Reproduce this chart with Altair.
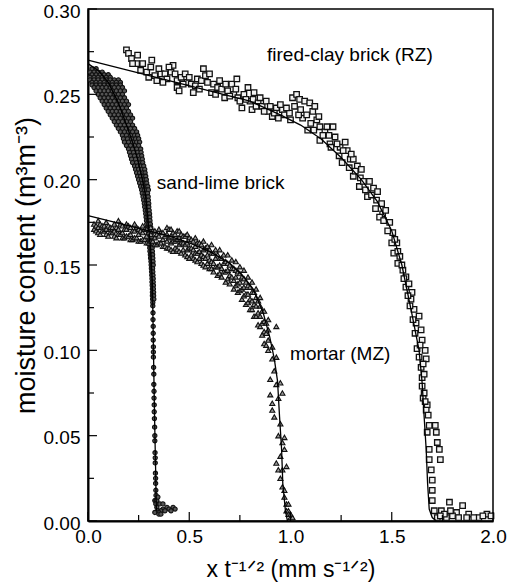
import altair as alt
import pandas as pd

# ---------------- data ----------------
# fired-clay brick (RZ) – squares
FC_X = [0.19, 0.20, 0.215, 0.245, 0.24, 0.26, 0.29, 0.315, 0.31, 0.33, 0.34, 0.36, 0.38, 0.39,
        0.42, 0.41, 0.44, 0.44, 0.46, 0.48, 0.49, 0.51, 0.52, 0.54, 0.56, 0.57, 0.58, 0.60,
        0.61, 0.62, 0.64, 0.65, 0.675, 0.69, 0.71, 0.72, 0.735, 0.74, 0.76, 0.77, 0.79, 0.80,
        0.81, 0.815, 0.84, 0.86, 0.88, 0.89, 0.91, 0.93, 0.96, 0.97, 0.995, 1.01, 1.03, 1.045,
        1.06, 1.07, 1.085, 1.095, 1.11, 1.12, 1.13, 1.145, 1.145, 1.17, 1.18, 1.195, 1.21, 1.22,
        1.245, 1.255, 1.27, 1.28, 1.295, 1.31, 1.31, 1.33, 1.345, 1.35, 1.37, 1.39, 1.41, 1.425,
        1.43, 1.45, 1.455, 1.47, 1.49, 1.505, 1.51, 1.525, 1.53, 1.53, 1.555, 1.57, 1.57, 1.585,
        1.595, 1.60, 1.61, 1.62, 1.635, 1.645, 1.65, 1.625, 1.665, 1.635, 1.67, 1.645, 1.65, 1.65,
        1.655, 1.675, 1.67, 1.68, 1.685, 1.715, 1.675, 1.72, 1.725, 1.685, 1.735, 1.74, 1.685, 1.695,
        1.70, 1.70, 1.70, 1.71, 1.745, 1.785, 1.82, 1.85, 1.88, 1.93, 1.97, 1.77, 1.83, 1.725,
        1.905, 1.76, 1.80, 1.87, 1.95, 1.99, 1.74, 1.79,
        0.22, 0.27, 0.30, 0.35, 0.37, 0.40, 0.43, 0.45, 0.47, 0.50, 0.53, 0.55, 0.59, 0.63,
        0.66, 0.68, 0.70, 0.73, 0.75, 0.78, 0.82, 0.83, 0.85, 0.87, 0.90, 0.92, 0.94, 0.95,
        0.98, 1.00, 1.02, 1.04, 1.05, 1.08, 1.10, 1.115, 1.14, 1.16, 1.19, 1.20, 1.23, 1.24,
        1.26, 1.29, 1.30, 1.32, 1.34, 1.36, 1.38, 1.40, 1.42, 1.44, 1.46, 1.48, 1.50, 1.515,
        1.54, 1.55, 1.56, 1.58, 1.59, 1.605, 1.615, 1.64, 1.655, 1.66, 1.66, 1.665]
FC_Y = [0.276, 0.274, 0.271, 0.273, 0.268, 0.264, 0.263, 0.270, 0.266, 0.261, 0.258, 0.262, 0.262, 0.259,
        0.267, 0.263, 0.258, 0.254, 0.260, 0.262, 0.257, 0.256, 0.251, 0.259, 0.258, 0.265, 0.261, 0.262,
        0.251, 0.256, 0.254, 0.258, 0.248, 0.252, 0.256, 0.250, 0.259, 0.248, 0.242, 0.250, 0.254, 0.246,
        0.241, 0.247, 0.245, 0.243, 0.246, 0.240, 0.237, 0.242, 0.241, 0.238, 0.239, 0.248, 0.250, 0.247,
        0.236, 0.246, 0.229, 0.245, 0.240, 0.243, 0.235, 0.231, 0.223, 0.228, 0.231, 0.221, 0.231, 0.225,
        0.219, 0.210, 0.222, 0.217, 0.212, 0.212, 0.202, 0.208, 0.201, 0.206, 0.194, 0.199, 0.195, 0.188,
        0.193, 0.186, 0.180, 0.182, 0.175, 0.169, 0.157, 0.163, 0.151, 0.158, 0.147, 0.143, 0.137, 0.139,
        0.130, 0.134, 0.124, 0.116, 0.120, 0.112, 0.106, 0.101, 0.100, 0.096, 0.095, 0.090, 0.084, 0.079,
        0.072, 0.068, 0.065, 0.062, 0.056, 0.056, 0.052, 0.052, 0.046, 0.042, 0.042, 0.036, 0.036, 0.030,
        0.024, 0.018, 0.012, 0.006, 0.006, 0.011, 0.005, 0.009, 0.004, 0.002, 0.004, 0.002, 0.002, 0.002,
        0.002, 0.004, 0.003, 0.002, 0.003, 0.003, 0.003, 0.006,
        0.268, 0.268, 0.260, 0.265, 0.257, 0.266, 0.262, 0.252, 0.256, 0.260, 0.255, 0.253, 0.257, 0.250,
        0.253, 0.256, 0.249, 0.253, 0.246, 0.247, 0.251, 0.243, 0.248, 0.240, 0.243, 0.239, 0.236, 0.244,
        0.242, 0.235, 0.243, 0.238, 0.241, 0.238, 0.233, 0.229, 0.237, 0.226, 0.226, 0.219, 0.221, 0.214,
        0.217, 0.207, 0.215, 0.205, 0.196, 0.199, 0.190, 0.191, 0.183, 0.178, 0.176, 0.170, 0.163, 0.165,
        0.155, 0.150, 0.142, 0.132, 0.126, 0.118, 0.110, 0.103, 0.092, 0.086, 0.075, 0.070]

# sand-lime brick – circles, read row by row (moisture value, positions across the band)
SL_ROWS = [
    (0.265, [0.02, 0.04]),
    (0.263, [0.01, 0.03, 0.05, 0.07]),
    (0.2615, [0.02, 0.04, 0.06, 0.08, 0.10]),
    (0.260, [0.01, 0.03, 0.05, 0.07, 0.09, 0.11]),
    (0.2585, [0.01, 0.03, 0.05, 0.07, 0.09, 0.11, 0.13, 0.15]),
    (0.257, [0.02, 0.04, 0.06, 0.08, 0.10, 0.12, 0.14, 0.16]),
    (0.2555, [0.02, 0.04, 0.06, 0.08, 0.10, 0.12, 0.14, 0.16]),
    (0.254, [0.03, 0.05, 0.07, 0.09, 0.11, 0.13, 0.15, 0.17]),
    (0.252, [0.04, 0.06, 0.08, 0.10, 0.12, 0.14, 0.16, 0.18]),
    (0.250, [0.05, 0.07, 0.09, 0.11, 0.13, 0.15, 0.17]),
    (0.248, [0.06, 0.08, 0.10, 0.12, 0.14, 0.16, 0.18]),
    (0.246, [0.07, 0.09, 0.11, 0.13, 0.15, 0.17, 0.19]),
    (0.244, [0.08, 0.10, 0.12, 0.14, 0.16, 0.18, 0.20]),
    (0.242, [0.09, 0.11, 0.13, 0.15, 0.17, 0.19]),
    (0.240, [0.10, 0.12, 0.14, 0.16, 0.18, 0.20]),
    (0.238, [0.11, 0.13, 0.15, 0.17, 0.19, 0.21]),
    (0.236, [0.12, 0.14, 0.16, 0.18, 0.20, 0.22]),
    (0.234, [0.13, 0.15, 0.17, 0.19, 0.21]),
    (0.232, [0.14, 0.16, 0.18, 0.20, 0.22]),
    (0.230, [0.15, 0.17, 0.19, 0.21, 0.23]),
    (0.228, [0.16, 0.18, 0.20, 0.22, 0.24]),
    (0.226, [0.17, 0.19, 0.21, 0.23, 0.245]),
    (0.224, [0.175, 0.195, 0.215, 0.235, 0.25]),
    (0.222, [0.18, 0.20, 0.22, 0.24, 0.255]),
    (0.220, [0.19, 0.21, 0.23, 0.25]),
    (0.218, [0.20, 0.22, 0.24, 0.26]),
    (0.216, [0.205, 0.225, 0.245, 0.262]),
    (0.214, [0.21, 0.23, 0.25, 0.265]),
    (0.212, [0.215, 0.235, 0.255, 0.268]),
    (0.210, [0.22, 0.24, 0.26, 0.27]),
    (0.208, [0.23, 0.245, 0.26, 0.275]),
    (0.206, [0.235, 0.25, 0.265, 0.28]),
    (0.204, [0.24, 0.255, 0.27, 0.282]),
    (0.202, [0.245, 0.26, 0.275, 0.285]),
    (0.200, [0.25, 0.265, 0.28, 0.288]),
    (0.198, [0.255, 0.27, 0.285, 0.29]),
    (0.196, [0.26, 0.274, 0.288, 0.295]),
    (0.194, [0.265, 0.278, 0.29, 0.298]),
    (0.192, [0.268, 0.282, 0.294]),
    (0.190, [0.272, 0.285, 0.297]),
    (0.188, [0.275, 0.288, 0.298]),
    (0.186, [0.278, 0.29, 0.30]),
    (0.184, [0.28, 0.292, 0.30]),
    (0.182, [0.283, 0.294, 0.302]),
    (0.180, [0.285, 0.296, 0.304]),
    (0.178, [0.287, 0.297, 0.305]),
    (0.176, [0.289, 0.299, 0.306]),
    (0.174, [0.29, 0.30, 0.308]),
    (0.172, [0.293, 0.302, 0.31]),
    (0.170, [0.295, 0.304, 0.311]),
    (0.168, [0.297, 0.305, 0.312]),
    (0.166, [0.299, 0.307, 0.313]),
    (0.164, [0.301, 0.309, 0.315]),
    (0.162, [0.303, 0.31, 0.316]),
    (0.160, [0.305, 0.312, 0.317]),
    (0.158, [0.306, 0.313, 0.318]),
    (0.156, [0.308, 0.314, 0.319]),
    (0.154, [0.309, 0.315, 0.32]),
    (0.152, [0.311, 0.317, 0.321]),
    (0.150, [0.312, 0.318, 0.322]),
    (0.148, [0.313, 0.319]),
    (0.146, [0.314, 0.32]),
    (0.144, [0.315, 0.321]),
    (0.142, [0.316, 0.322]),
    (0.140, [0.316, 0.322]),
    (0.138, [0.317, 0.323]),
    (0.136, [0.318, 0.323]),
    (0.134, [0.318, 0.324]),
    (0.132, [0.318, 0.324]),
    (0.130, [0.319, 0.325]),
    (0.128, [0.32]), (0.126, [0.32]), (0.122, [0.321]), (0.118, [0.321]), (0.114, [0.322]),
    (0.110, [0.322]), (0.106, [0.322]), (0.102, [0.323]), (0.099, [0.323]),
    (0.096, [0.323]), (0.090, [0.324]), (0.086, [0.325]), (0.080, [0.325]),
    (0.076, [0.326]), (0.072, [0.326]), (0.068, [0.327]), (0.064, [0.327]),
    (0.060, [0.328]), (0.055, [0.329]), (0.050, [0.330]), (0.047, [0.330]),
    (0.040, [0.331]), (0.037, [0.332]), (0.034, [0.332]), (0.028, [0.333]),
    (0.025, [0.334]), (0.022, [0.334]), (0.018, [0.335]), (0.015, [0.336]),
    (0.012, [0.33, 0.336, 0.34]),
    (0.010, [0.335, 0.355, 0.37]),
    (0.008, [0.34, 0.39, 0.42]),
    (0.007, [0.37, 0.40, 0.43]),
    (0.006, [0.345, 0.36, 0.38, 0.41]),
    (0.005, [0.33, 0.35]),
    (0.004, [0.35, 0.36]),
    (0.014, [0.345]),
]

# mortar (MZ) – triangles, read column by column (position, moisture values)
MZ_COLS = [
    (0.03, [0.171, 0.174]), (0.04, [0.170, 0.173]), (0.05, [0.169, 0.172, 0.176]),
    (0.06, [0.168, 0.174]), (0.07, [0.170, 0.173]), (0.08, [0.170, 0.173]),
    (0.09, [0.168, 0.171, 0.175]), (0.10, [0.167, 0.173]), (0.11, [0.169, 0.172]),
    (0.12, [0.169, 0.172]), (0.13, [0.167, 0.170, 0.174]), (0.14, [0.166, 0.172]),
    (0.15, [0.168, 0.171, 0.176]), (0.16, [0.168, 0.174]), (0.17, [0.166, 0.169, 0.173]),
    (0.18, [0.166, 0.171]), (0.19, [0.167, 0.171, 0.174]), (0.20, [0.167, 0.173]),
    (0.21, [0.165, 0.168, 0.172]), (0.22, [0.165, 0.170]), (0.23, [0.166, 0.170, 0.174]),
    (0.24, [0.166, 0.172]), (0.25, [0.164, 0.168, 0.171]), (0.26, [0.164, 0.170]),
    (0.27, [0.165, 0.169, 0.173]), (0.28, [0.165, 0.171]), (0.29, [0.163, 0.167, 0.171]),
    (0.30, [0.163, 0.169]), (0.31, [0.164, 0.168, 0.172]), (0.32, [0.164, 0.170]),
    (0.33, [0.162, 0.166, 0.170]), (0.34, [0.162, 0.168]), (0.35, [0.163, 0.167, 0.171]),
    (0.36, [0.163, 0.169]), (0.37, [0.161, 0.165, 0.169]), (0.38, [0.161, 0.167]),
    (0.39, [0.160, 0.164, 0.168, 0.172]), (0.40, [0.160, 0.166, 0.171]),
    (0.41, [0.159, 0.163, 0.167, 0.171]), (0.42, [0.158, 0.164, 0.169]),
    (0.43, [0.160, 0.164, 0.168]), (0.44, [0.159, 0.165, 0.170]),
    (0.45, [0.158, 0.162, 0.166, 0.170]), (0.46, [0.157, 0.163, 0.168]),
    (0.47, [0.159, 0.163, 0.167]), (0.48, [0.156, 0.162, 0.167]),
    (0.49, [0.155, 0.159, 0.163, 0.168]), (0.50, [0.154, 0.160, 0.166]),
    (0.51, [0.156, 0.160, 0.165]), (0.52, [0.154, 0.159, 0.164]),
    (0.53, [0.153, 0.157, 0.161, 0.166]), (0.54, [0.152, 0.157, 0.163]),
    (0.55, [0.154, 0.158, 0.163]), (0.56, [0.151, 0.156, 0.162]),
    (0.57, [0.150, 0.155, 0.159, 0.164]), (0.58, [0.149, 0.154, 0.160]),
    (0.59, [0.151, 0.156, 0.161]), (0.60, [0.148, 0.153, 0.159]),
    (0.61, [0.148, 0.152, 0.157, 0.162]), (0.62, [0.146, 0.151, 0.157]),
    (0.63, [0.149, 0.154, 0.159]), (0.64, [0.144, 0.149, 0.156]),
    (0.65, [0.145, 0.150, 0.154, 0.159]), (0.66, [0.143, 0.148, 0.154]),
    (0.67, [0.146, 0.151, 0.156]), (0.68, [0.140, 0.146, 0.152]),
    (0.69, [0.142, 0.147, 0.151, 0.156]), (0.70, [0.139, 0.144, 0.150]),
    (0.71, [0.143, 0.148, 0.153]), (0.72, [0.136, 0.141, 0.148]),
    (0.73, [0.138, 0.143, 0.147, 0.152]), (0.74, [0.134, 0.139, 0.146]),
    (0.75, [0.135, 0.140, 0.145, 0.149]), (0.76, [0.130, 0.136, 0.143]),
    (0.77, [0.132, 0.137, 0.142, 0.147]), (0.78, [0.127, 0.133, 0.140]),
    (0.79, [0.128, 0.133, 0.138, 0.143]), (0.80, [0.124, 0.130, 0.137]),
    (0.81, [0.124, 0.129, 0.134, 0.140]), (0.82, [0.120, 0.127, 0.134]),
    (0.83, [0.120, 0.126, 0.131, 0.136]), (0.84, [0.115, 0.122, 0.129]),
    (0.85, [0.114, 0.120, 0.126, 0.131]), (0.86, [0.109, 0.116, 0.123]),
    (0.87, [0.104, 0.111, 0.117, 0.123]), (0.88, [0.103, 0.110, 0.116]),
    (0.89, [0.100, 0.106, 0.112, 0.118]),
    (0.90, [0.083, 0.074]), (0.91, [0.069, 0.065, 0.095, 0.102]), (0.92, [0.061, 0.088]),
    (0.93, [0.034, 0.096, 0.080, 0.114]), (0.94, [0.030, 0.050, 0.072]),
    (0.95, [0.057, 0.081, 0.038, 0.025]), (0.96, [0.046, 0.075, 0.020, 0.030]),
    (0.97, [0.042, 0.049, 0.014, 0.018]), (0.98, [0.032, 0.010, 0.006]),
    (0.99, [0.006, 0.004, 0.010]), (1.00, [0.004, 0.002]), (1.01, [0.002]),
]

# fitted curves
FIT_FC_X = [0.0, 0.2, 0.4, 0.6, 0.8, 0.95, 1.05, 1.15, 1.25, 1.35, 1.43, 1.50, 1.55, 1.60,
            1.635, 1.65, 1.66, 1.67, 1.677, 1.685, 1.70, 1.72]
FIT_FC_Y = [0.270, 0.264, 0.258, 0.252, 0.246, 0.238, 0.232, 0.224, 0.213, 0.200, 0.187, 0.170,
            0.150, 0.121, 0.100, 0.081, 0.061, 0.042, 0.022, 0.007, 0.002, 0.0]
FIT_SL_X = [0.0, 0.05, 0.10, 0.15, 0.19, 0.22, 0.245, 0.265, 0.285, 0.297, 0.31, 0.318, 0.322,
            0.326, 0.33, 0.334, 0.336, 0.338]
FIT_SL_Y = [0.268, 0.264, 0.257, 0.245, 0.232, 0.222, 0.212, 0.202, 0.190, 0.175, 0.158, 0.140,
            0.110, 0.080, 0.053, 0.030, 0.015, 0.006]
FIT_MZ_X = [0.0, 0.1, 0.2, 0.3, 0.4, 0.5, 0.6, 0.7, 0.77, 0.815, 0.865, 0.897, 0.92, 0.936,
            0.946, 0.956, 0.962, 0.975, 0.985]
FIT_MZ_Y = [0.179, 0.176, 0.173, 0.170, 0.167, 0.163, 0.158, 0.151, 0.143, 0.136, 0.122, 0.108,
            0.095, 0.082, 0.061, 0.042, 0.022, 0.006, 0.0]

LABELS = ["fired-clay brick (RZ)", "sand-lime brick", "mortar (MZ)"]
LABEL_X = [0.884, 0.34, 0.998]
LABEL_Y = [0.273, 0.198, 0.098]

X_MAJOR = [0.0, 0.5, 1.0, 1.5, 2.0]
X_MINOR = [0.25, 0.75, 1.25, 1.75]
Y_MAJOR = [0.0, 0.05, 0.10, 0.15, 0.20, 0.25, 0.30]
Y_MINOR = [0.025, 0.075, 0.125, 0.175, 0.225, 0.275]

# ---------------- build tables ----------------
fc = pd.DataFrame({"x": FC_X, "y": FC_Y})
sl = pd.DataFrame([{"x": xv, "y": yv} for yv, xs in SL_ROWS for xv in xs])
mz = pd.DataFrame([{"x": xv, "y": yv} for xv, ys in MZ_COLS for yv in ys])

fit_rows = []
for name, xs_, ys_ in [("fc", FIT_FC_X, FIT_FC_Y), ("sl", FIT_SL_X, FIT_SL_Y), ("mz", FIT_MZ_X, FIT_MZ_Y)]:
    for i, (xv, yv) in enumerate(zip(xs_, ys_)):
        fit_rows.append({"s": name, "i": i, "x": xv, "y": yv})
fits = pd.DataFrame(fit_rows)
labels = pd.DataFrame({"t": LABELS, "x": LABEL_X, "y": LABEL_Y})

W, H = 405, 512
FONT = "Liberation Sans"

xs = alt.Scale(domain=[0, 2], nice=False, zero=False)
ys = alt.Scale(domain=[0, 0.3], nice=False, zero=False)

x_axis = alt.Axis(values=X_MAJOR, format=".1f", ticks=False, grid=False, labelFlush=False,
                  labelOverlap=False, labelFontSize=19, labelFont=FONT, labelColor="black",
                  labelPadding=6, domainColor="black", domainWidth=2,
                  title="x t⁻¹ᐟ² (mm s⁻¹ᐟ²)", titleFont=FONT, titleFontSize=23,
                  titleFontWeight="normal", titleColor="black", titlePadding=12)
y_axis = alt.Axis(values=Y_MAJOR, format=".2f", ticks=False, grid=False, labelFlush=False,
                  labelOverlap=False, labelFontSize=19, labelFont=FONT, labelColor="black",
                  labelPadding=8, labelOffset=2, domainColor="black", domainWidth=2,
                  title="moisture content (m³m⁻³)", titleFont=FONT, titleFontSize=27,
                  titleFontWeight="normal", titleColor="black", titlePadding=3)

base_x = alt.X("x:Q", scale=xs, axis=x_axis)
base_y = alt.Y("y:Q", scale=ys, axis=y_axis)

pts_fc = alt.Chart(fc).mark_point(shape="square", size=30, filled=True, fill="#f2f2f2",
                                  stroke="#111", strokeWidth=1.3, opacity=1).encode(x=base_x, y=base_y)
pts_sl = alt.Chart(sl).mark_point(shape="circle", size=18, filled=True, fill="#555",
                                  stroke="#111", strokeWidth=1.1, opacity=1).encode(
    x=alt.X("x:Q", scale=xs), y=alt.Y("y:Q", scale=ys))
pts_mz = alt.Chart(mz).mark_point(shape="triangle-up", size=26, filled=True, fill="#9a9a9a",
                                  stroke="#111", strokeWidth=1.1, opacity=1).encode(
    x=alt.X("x:Q", scale=xs), y=alt.Y("y:Q", scale=ys))

lines = alt.Chart(fits).mark_line(color="black", strokeWidth=1.3).encode(
    x=alt.X("x:Q", scale=xs), y=alt.Y("y:Q", scale=ys), detail="s:N", order="i:Q")

texts = alt.Chart(labels).mark_text(align="left", baseline="middle", fontSize=19, font=FONT,
                                    color="black").encode(
    x=alt.X("x:Q", scale=xs), y=alt.Y("y:Q", scale=ys), text="t:N")

xt = pd.DataFrame({"v": X_MAJOR + X_MINOR, "len": [9] * len(X_MAJOR) + [6] * len(X_MINOR)})
yt = pd.DataFrame({"v": Y_MAJOR + Y_MINOR, "len": [9] * len(Y_MAJOR) + [6] * len(Y_MINOR)})

xt_major = alt.Chart(xt[xt["len"] == 9]).mark_rule(color="black", strokeWidth=1.2).encode(
    x=alt.X("v:Q", scale=xs), y=alt.value(H), y2=alt.value(H - 9))
xt_minor = alt.Chart(xt[xt["len"] == 6]).mark_rule(color="black", strokeWidth=1.2).encode(
    x=alt.X("v:Q", scale=xs), y=alt.value(H), y2=alt.value(H - 6))
yt_major = alt.Chart(yt[yt["len"] == 9]).mark_rule(color="black", strokeWidth=1.2).encode(
    y=alt.Y("v:Q", scale=ys), x=alt.value(0), x2=alt.value(9))
yt_minor = alt.Chart(yt[yt["len"] == 6]).mark_rule(color="black", strokeWidth=1.2).encode(
    y=alt.Y("v:Q", scale=ys), x=alt.value(0), x2=alt.value(6))

chart = alt.layer(
    pts_fc, pts_sl, pts_mz, lines, texts, xt_major, xt_minor, yt_major, yt_minor
).properties(
    width=W, height=H,
    autosize=alt.AutoSizeParams(type="none"),
    padding={"left": 88, "top": 9, "right": 14, "bottom": 66},
    background="white",
).configure_view(stroke="black", strokeWidth=1.5)

chart.save("out.html", embed_options={"renderer": "svg", "actions": False})
